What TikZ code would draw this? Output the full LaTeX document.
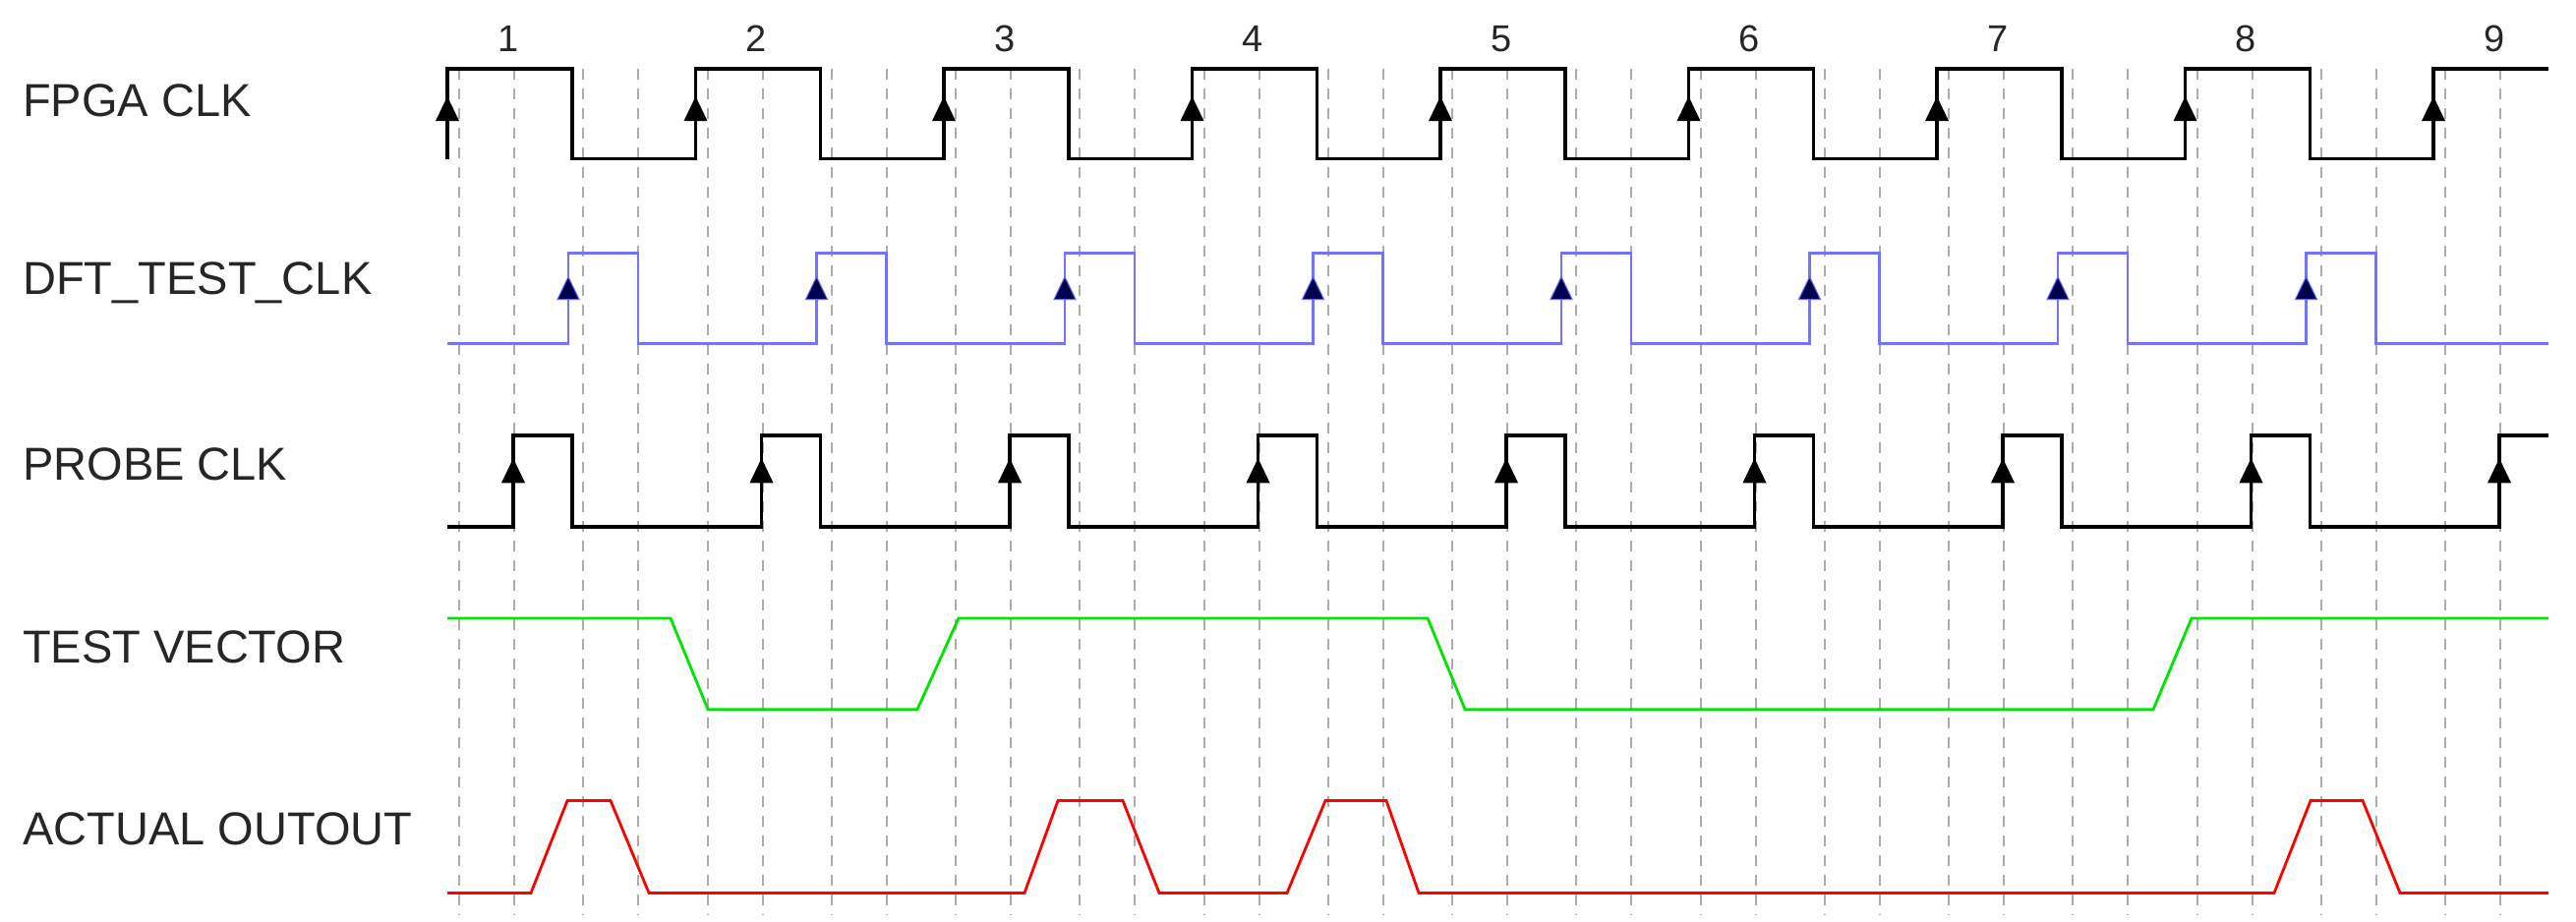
\documentclass[tikz,border=0pt]{standalone}
\usepackage{fontspec}
\setmainfont{Liberation Sans}
\begin{document}
\begin{tikzpicture}[x=1pt,y=-1.043pt,
  lbl/.style={anchor=west,inner sep=0pt,font=\fontsize{47}{50}\selectfont,text=black!85},
  num/.style={inner sep=0pt,font=\fontsize{38}{40}\selectfont,text=black!85},
  grid/.style={gray!65,line width=2pt,dash pattern=on 11pt off 9pt},
  blk/.style={black,line width=3.6pt},
  blu/.style={blue!55!white,line width=2.8pt},
  grn/.style={green!90!black,line width=2.8pt},
  rd/.style={red,line width=2.8pt},
  tip/.style={fill=black}]
\useasboundingbox (0,0) rectangle (2620,899.3);
\def\xo{455}\def\P{252.5}
% grid
\foreach \k in {0,...,17}{
  \pgfmathsetmacro\a{\xo+\k*\P/2+12}
  \pgfmathsetmacro\b{\xo+\k*\P/2+68}
  \ifdim\a pt<2590pt \draw[grid] (\a,67) -- (\a,893);\fi
  \ifdim\b pt<2590pt \draw[grid] (\b,67) -- (\b,893);\fi
}
% labels
\node[lbl] at (23,98) {FPGA CLK};
\node[lbl] at (23,276) {DFT\_TEST\_CLK};
\node[lbl] at (23,453) {PROBE CLK};
\node[lbl] at (23,631) {TEST VECTOR};
\node[lbl] at (23,809) {ACTUAL OUTOUT};
\foreach \k in {1,...,9}{
  \pgfmathsetmacro\n{\xo+(\k-1)*\P+62}
  \node[num] at (\n,38) {\k};
}
% FPGA CLK
\draw[blk] (\xo,155)
 \foreach \k in {0,...,7}{ -- ({\xo+\k*\P},155) -- ({\xo+\k*\P},67) -- ({\xo+\k*\P+127},67) -- ({\xo+\k*\P+127},155) }
 -- ({\xo+8*\P},155) -- ({\xo+8*\P},67) -- (2592,67);
\foreach \k in {0,...,8}{
  \fill[tip] ({\xo+\k*\P-12},118) -- ({\xo+\k*\P+12},118) -- ({\xo+\k*\P},94) -- cycle;}
% DFT
\draw[blu] (\xo,335)
 \foreach \k in {0,...,7}{ -- ({\xo+\k*\P+123},335) -- ({\xo+\k*\P+123},247) -- ({\xo+\k*\P+194},247) -- ({\xo+\k*\P+194},335) }
 -- (2592,335);
\foreach \k in {0,...,7}{
  \fill[fill=black!70!blue,draw=blue!60,line width=1pt] ({\xo+\k*\P+123-11},292) -- ({\xo+\k*\P+123+11},292) -- ({\xo+\k*\P+123},270) -- cycle;}
% PROBE
\draw[blk] (\xo,514)
 \foreach \k in {0,...,7}{ -- ({\xo+\k*\P+67},514) -- ({\xo+\k*\P+67},425) -- ({\xo+\k*\P+127},425) -- ({\xo+\k*\P+127},514) }
 -- ({\xo+8*\P+67},514) -- ({\xo+8*\P+67},425) -- (2592,425);
\foreach \k in {0,...,8}{
  \fill[tip] ({\xo+\k*\P+67-12},471) -- ({\xo+\k*\P+67+12},471) -- ({\xo+\k*\P+67},447) -- cycle;}
% TEST VECTOR
\draw[grn] (\xo,603) -- (682,603) -- (720,692) -- (933,692) -- (975,603) -- (1452,603) -- (1490,692) -- (2190,692) -- (2229,603) -- (2592,603);
% ACTUAL OUTOUT
\draw[rd] (\xo,871) -- (540,871) -- (577,781) -- (621,781) -- (660,871)
 -- (1042,871) -- (1076,781) -- (1142,781) -- (1179,871)
 -- (1309,871) -- (1348,781) -- (1410,781) -- (1443,871)
 -- (2313,871) -- (2350,781) -- (2403,781) -- (2441,871) -- (2592,871);
\end{tikzpicture}
\end{document}
